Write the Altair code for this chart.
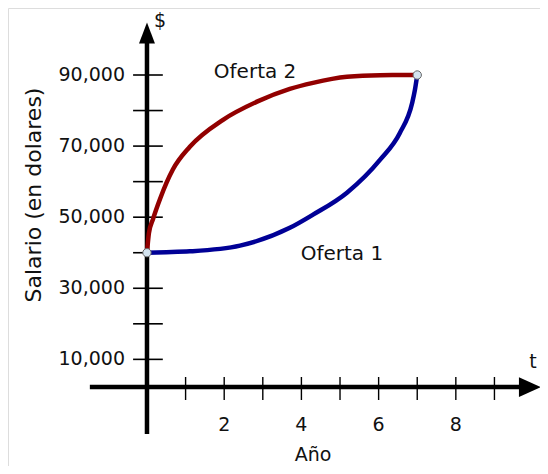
import altair as alt
import pandas as pd

# ---- data ----
oferta2_years = [0, 0.05, 0.16, 0.34, 0.67, 1.11, 1.97, 2.85, 3.70, 4.30, 5.18, 6.04, 7]
oferta2_salary = [40000, 45500, 49600, 55200, 63400, 69800, 77400, 82500, 86100, 87800, 89500, 89950, 90000]

oferta1_years = [0, 0.5, 1.11, 2.41, 3.70, 4.30, 5.18, 6.04, 6.55, 6.87, 6.94, 7]
oferta1_salary = [40000, 40150, 40400, 42000, 47000, 50700, 56900, 66200, 73700, 82200, 85800, 90000]

endpoint_years = [0, 7]
endpoint_salary = [40000, 90000]

y_tick_values = [10000, 20000, 30000, 40000, 50000, 60000, 70000, 80000, 90000]
y_label_values = [10000, 30000, 50000, 70000, 90000]
y_label_texts = ["10,000", "30,000", "50,000", "70,000", "90,000"]
x_tick_values = [1, 2, 3, 4, 5, 6, 7, 8, 9]
x_label_values = [2, 4, 6, 8]
x_label_texts = ["2", "4", "6", "8"]

series_names = ["Oferta 2", "Oferta 1"]
series_label_x = [2.80, 5.05]
series_label_y = [90850, 39650]

# ---- scales ----
XMIN, XMAX = -3.6, 10.18
YMIN, YMAX = -20000, 108850
W, H = 532, 458
FONT = "DejaVu Sans"

def X(field="x"):
    return alt.X(f"{field}:Q", scale=alt.Scale(domain=[XMIN, XMAX], nice=False, zero=False), axis=None)

def Y(field="y"):
    return alt.Y(f"{field}:Q", scale=alt.Scale(domain=[YMIN, YMAX], nice=False, zero=False), axis=None)

# ---- curves ----
c2 = pd.DataFrame({"x": oferta2_years, "y": oferta2_salary})
c1 = pd.DataFrame({"x": oferta1_years, "y": oferta1_salary})

line2 = alt.Chart(c2).mark_line(color="#920000", strokeWidth=4.5, interpolate="monotone").encode(
    x=X(), y=Y(), order="x:Q")
line1 = alt.Chart(c1).mark_line(color="#000096", strokeWidth=4.5, interpolate="monotone").encode(
    x=X(), y=Y(), order="x:Q")

ends = alt.Chart(pd.DataFrame({"x": endpoint_years, "y": endpoint_salary})).mark_point(
    shape="circle", filled=True, size=70, fill="#d4e4f0", stroke="#666666", strokeWidth=1, opacity=1
).encode(x=X(), y=Y())

# ---- axes (drawn by hand) ----
x_axis_y = 2200
xaxis_line = alt.Chart(pd.DataFrame({"x": [-1.48], "x2": [9.7], "y": [x_axis_y]})).mark_rule(
    color="black", strokeWidth=4.5).encode(x=X(), x2="x2:Q", y=Y())
yaxis_line = alt.Chart(pd.DataFrame({"x": [0], "y": [-11000], "y2": [99500]})).mark_rule(
    color="black", strokeWidth=4.5).encode(x=X(), y=Y(), y2="y2:Q")

x_arrow = alt.Chart(pd.DataFrame({"x": [9.92], "y": [x_axis_y]})).mark_point(
    shape="M1,0L-1,-0.9L-1,0.9Z", size=484, filled=True, color="black", opacity=1
).encode(x=X(), y=Y())
y_arrow = alt.Chart(pd.DataFrame({"x": [0], "y": [101830]})).mark_point(
    shape="M0,-1L0.76,1L-0.76,1Z", size=441, filled=True, color="black", opacity=1
).encode(x=X(), y=Y())

yticks = alt.Chart(pd.DataFrame({"y": y_tick_values, "x": [-0.36] * len(y_tick_values),
                                 "x2": [0.41] * len(y_tick_values)})).mark_rule(
    color="black", strokeWidth=1.6).encode(x=X(), x2="x2:Q", y=Y())
xticks = alt.Chart(pd.DataFrame({"x": x_tick_values, "y": [5040] * len(x_tick_values),
                                 "y2": [-1440] * len(x_tick_values)})).mark_rule(
    color="black", strokeWidth=1.4).encode(x=X(), y=Y(), y2="y2:Q")

ylabels = alt.Chart(pd.DataFrame({"y": y_label_values, "t": y_label_texts,
                                  "x": [-0.57] * len(y_label_values)})).mark_text(
    align="right", baseline="middle", font=FONT, fontSize=19, color="#111111").encode(
    x=X(), y=Y(), text="t:N")
xlabels = alt.Chart(pd.DataFrame({"x": x_label_values, "t": x_label_texts,
                                  "y": [-8470] * len(x_label_values)})).mark_text(
    align="center", baseline="middle", font=FONT, fontSize=19, color="#111111").encode(
    x=X(), y=Y(), text="t:N")

series_labels = alt.Chart(pd.DataFrame({"x": series_label_x, "y": series_label_y, "t": series_names})).mark_text(
    align="center", baseline="middle", font=FONT, fontSize=20, color="#111111").encode(
    x=X(), y=Y(), text="t:N")

axis_texts = alt.Chart(pd.DataFrame({"x": [0.34, 10.0, 4.30], "y": [105200, 9260, -16900],
                                     "t": ["$", "t", "Año"]})).mark_text(
    align="center", baseline="middle", font=FONT, fontSize=19, color="#111111").encode(
    x=X(), y=Y(), text="t:N")

ytitle = alt.Chart(pd.DataFrame({"x": [-2.93], "y": [56240], "t": ["Salario (en dolares)"]})).mark_text(
    align="center", baseline="middle", font=FONT, fontSize=22, angle=270, color="#111111").encode(
    x=X(), y=Y(), text="t:N")

chart = alt.layer(
    xticks, yticks, xaxis_line, yaxis_line, x_arrow, y_arrow,
    line2, line1, ends,
    ylabels, xlabels, series_labels, axis_texts, ytitle
).properties(
    width=W, height=H, padding=0, autosize=alt.AutoSizeParams(type="none")
).configure_view(stroke=None).configure(background="white")

chart.save("out.html", embed_options={"renderer": "svg", "actions": False})
